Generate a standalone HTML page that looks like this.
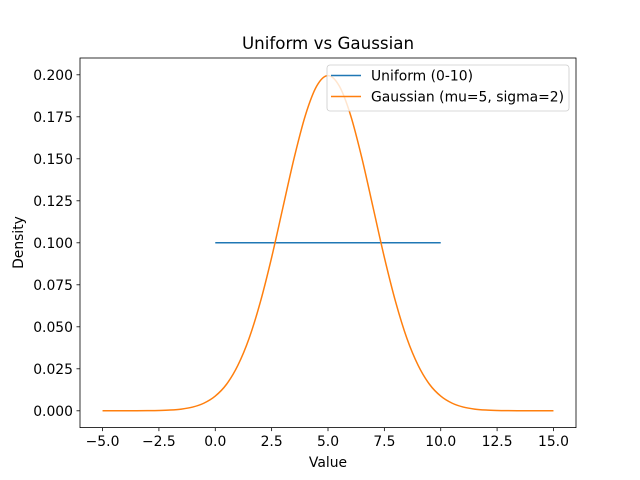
<!DOCTYPE html>
<html><head><meta charset="utf-8"><style>
body{margin:0;background:#fff}
svg{display:block;font-family:"DejaVu Sans","Liberation Sans",sans-serif}
</style></head><body>
<svg id="chart" width="640" height="480">
<rect width="640" height="480" fill="#fff"/>
<text x="328" y="49" font-size="16.7" text-anchor="middle">Uniform vs Gaussian</text>
<g id="xt"></g><g id="yt"></g><g id="series"></g>
<rect x="80" y="58" width="496" height="369.6" fill="none" stroke="#000" stroke-width="0.8"/>
<text x="328" y="467" font-size="13.9" text-anchor="middle">Value</text>
<text transform="translate(23,242.5) rotate(-90)" font-size="13.9" text-anchor="middle">Density</text>
<g>
<rect x="327" y="65" width="242" height="46" rx="3" fill="#fff" fill-opacity="0.8" stroke="#ccc" stroke-width="0.8"/>
<line x1="331" y1="75.5" x2="361" y2="75.5" stroke="#1f77b4" stroke-width="1.5"/>
<text x="371" y="80.5" font-size="13.9">Uniform (0-10)</text>
<line x1="331" y1="96.5" x2="361" y2="96.5" stroke="#ff7f0e" stroke-width="1.5"/>
<text x="371" y="101.5" font-size="13.9">Gaussian (mu=5, sigma=2)</text>
</g>
</svg>
<script>
const xTicks=[-5,-2.5,0,2.5,5,7.5,10,12.5,15];
const xTickLabels=["−5.0","−2.5","0.0","2.5","5.0","7.5","10.0","12.5","15.0"];
const yTicks=[0,0.025,0.05,0.075,0.1,0.125,0.15,0.175,0.2];
const yTickLabels=["0.000","0.025","0.050","0.075","0.100","0.125","0.150","0.175","0.200"];
const uniformX=[0,10];
const uniformY=[0.1,0.1];
const gaussX=[-5,-4.5,-4,-3.5,-3,-2.5,-2,-1.5,-1,-0.5,0,0.5,1,1.5,2,2.5,3,3.5,4,4.5,5,5.5,6,6.5,7,7.5,8,8.5,9,9.5,10,10.5,11,11.5,12,12.5,13,13.5,14,14.5,15];
const gaussY=[0,0,0.00001,0.00002,0.00007,0.00018,0.00044,0.00101,0.00222,0.00457,0.00876,0.0158,0.027,0.0431,0.0648,0.0913,0.121,0.1506,0.176,0.1933,0.1995,0.1933,0.176,0.1506,0.121,0.0913,0.0648,0.0431,0.027,0.0158,0.00876,0.00457,0.00222,0.00101,0.00044,0.00018,0.00007,0.00002,0.00001,0,0];
const NS="http://www.w3.org/2000/svg";
const sx=v=>80+(v+6)*22.5455;
const sy=v=>427.6-(v+0.01)*1680;
function mk(t,a,p){const e=document.createElementNS(NS,t);for(const k in a)e.setAttribute(k,a[k]);p.appendChild(e);return e;}
const xt=document.getElementById('xt'),yt=document.getElementById('yt'),ser=document.getElementById('series');
xTicks.forEach((v,i)=>{
 const l=mk('line',{x1:sx(v),x2:sx(v),y1:427.6,y2:431.1,stroke:'#000','stroke-width':0.8},xt);
 
 
 const t=mk('text',{x:sx(v),y:446,'font-size':13.9,'text-anchor':'middle'},xt);
 t.textContent=xTickLabels[i];
 
 
});
yTicks.forEach((v,i)=>{
 const l=mk('line',{x1:76.5,x2:80,y1:sy(v),y2:sy(v),stroke:'#000','stroke-width':0.8},yt);
 
 
 const t=mk('text',{x:73,y:sy(v)+5,'font-size':13.9,'text-anchor':'end'},yt);
 t.textContent=yTickLabels[i];
 
 
});
const u=mk('polyline',{points:uniformX.map((x,i)=>sx(x)+','+sy(uniformY[i])).join(' '),fill:'none',stroke:'#1f77b4','stroke-width':1.5},ser);


const P=gaussX.map((x,i)=>[sx(x),sy(gaussY[i])]);
let d='M'+P[0][0]+','+P[0][1];
for(let i=0;i<P.length-1;i++){
 const p0=P[Math.max(0,i-1)],p1=P[i],p2=P[i+1],p3=P[Math.min(P.length-1,i+2)];
 const c1=[p1[0]+(p2[0]-p0[0])/6,p1[1]+(p2[1]-p0[1])/6];
 const c2=[p2[0]-(p3[0]-p1[0])/6,p2[1]-(p3[1]-p1[1])/6];
 d+=' C'+c1[0]+','+c1[1]+' '+c2[0]+','+c2[1]+' '+p2[0]+','+p2[1];
}
const g=mk('path',{d:d,fill:'none',stroke:'#ff7f0e','stroke-width':1.5,'stroke-linejoin':'round'},ser);


</script>
</body></html>
